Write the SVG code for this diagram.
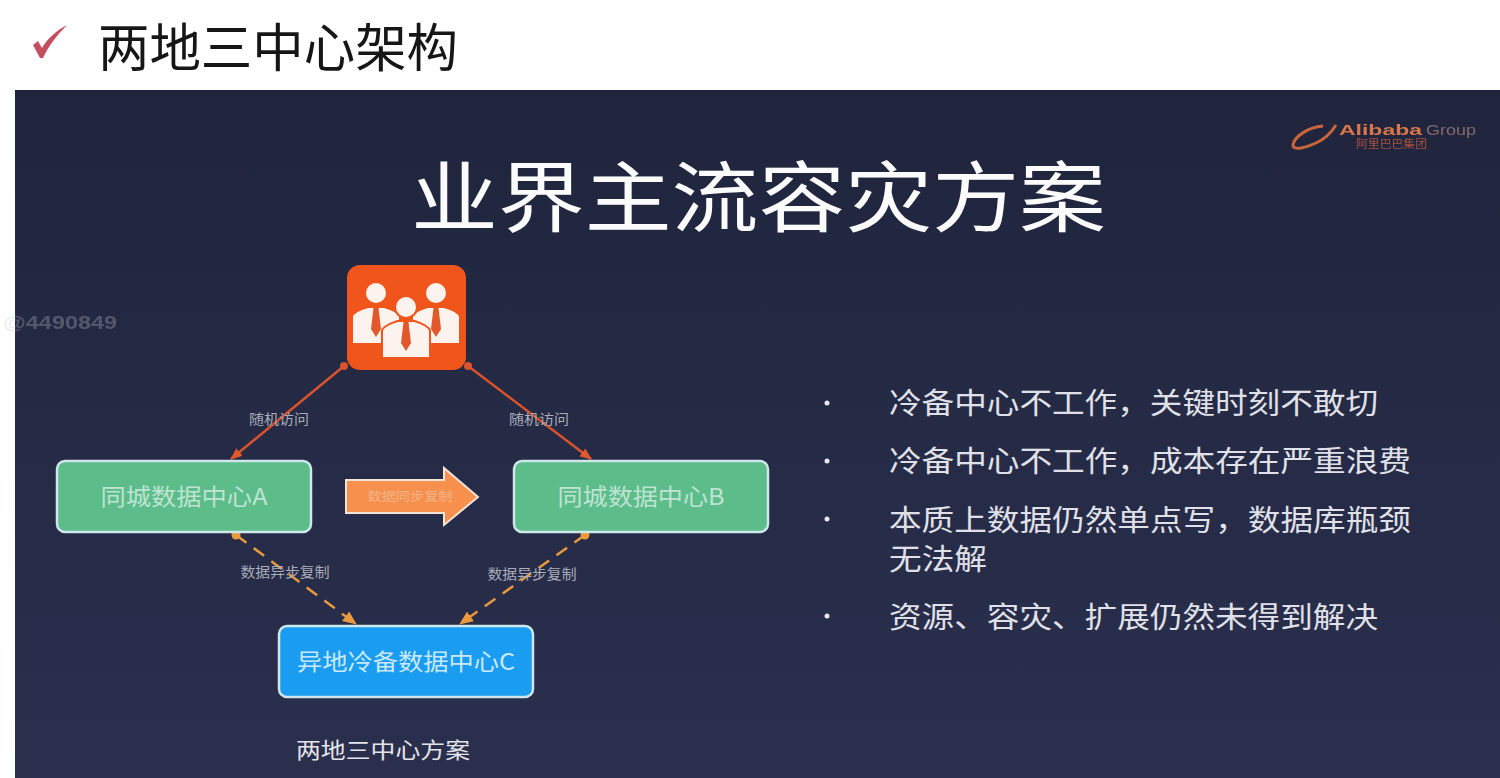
<svg xmlns="http://www.w3.org/2000/svg" width="1500" height="778" viewBox="0 0 1500 778">
<style>
text{font-family:"Noto Sans CJK SC","Noto Sans",sans-serif}
.node{stroke:#cfe6ea;stroke-width:2.5}
.nt{fill:#bfe3d2;font-size:23px;text-anchor:middle}
.lb{fill:#a9adb9;font-size:13.500px;text-anchor:middle}
.bl{fill:#e0e1e8;font-size:29px}
.dot{fill:#e8e8ee}
.red{stroke:#d9532c;stroke-width:2.5;fill:none}
.dash{stroke:#e89a3c;stroke-width:2.5;fill:none;stroke-dasharray:13 9}
.p{fill:#fdf3ee}.t{fill:#e2582a}
.soft{filter:url(#soft)}
</style>
<defs>
<filter id="soft" x="-5%" y="-5%" width="110%" height="110%"><feGaussianBlur stdDeviation="0.6"/></filter>
<linearGradient id="bg" x1="0" y1="0" x2="0" y2="1"><stop offset="0" stop-color="#20253d"/><stop offset="1" stop-color="#2a2f4e"/></linearGradient>
<marker id="ar" markerWidth="14" markerHeight="12" refX="11" refY="5" orient="auto" markerUnits="userSpaceOnUse"><path d="M0 0L12 5L0 10z" fill="#e2582a"/></marker>
<marker id="ao" markerWidth="16" markerHeight="14" refX="13" refY="6" orient="auto" markerUnits="userSpaceOnUse"><path d="M0 0L14 6L0 12z" fill="#e89a3c"/></marker>
<g id="person"><circle cx="0" cy="0" r="10" class="p"/><path d="M-23 50V24Q-22 19 -8 15L8 15Q22 19 23 24V50z" class="p"/><path d="M-2.500 15H2.500L5 36L0 44L-5 36z" class="t"/></g>
</defs>
<rect width="1500" height="778" fill="#fff"/>
<g id="header">
<path d="M33 45L38 41L42 48C47 39 56 31 67 25C56 36 48 47 43 58L40 58Z" fill="#c4505f"/>
<text x="98" y="67" font-size="52" fill="#161616" textLength="360" lengthAdjust="spacingAndGlyphs">两地三中心架构</text>
</g>
<rect x="15" y="90" width="1485" height="688" fill="url(#bg)"/>
<text class="soft" x="3" y="329" font-size="19" font-weight="700" fill="#c3c4ca" opacity=".3" style="font-family:'Liberation Sans',sans-serif" textLength="114" lengthAdjust="spacingAndGlyphs">@4490849</text>
<g id="logo" class="soft">
<path d="M1323 126C1308 127 1294 137 1293 145C1293 151 1306 148 1318 142M1336 125C1331 133 1325 139 1316 143" fill="none" stroke="#c9653a" stroke-width="3"/>
<text x="1339" y="135" font-size="15" font-weight="700" fill="#d8764a" style="font-family:'Liberation Sans',sans-serif" textLength="83" lengthAdjust="spacingAndGlyphs">Alibaba</text>
<text x="1426" y="135" font-size="15" fill="#7f6a6e" style="font-family:'Liberation Sans',sans-serif" textLength="50" lengthAdjust="spacingAndGlyphs">Group</text>
<text x="1356" y="148" font-size="11" fill="#a8503c" textLength="71" lengthAdjust="spacingAndGlyphs">阿里巴巴集团</text>
</g>
<text id="title" x="411" y="226" font-size="77" fill="#fbfbfc" textLength="695" lengthAdjust="spacingAndGlyphs">业界主流容灾方案</text>
<g id="connectors">
<path class="red" marker-end="url(#ar)" d="M344 366L231 459"/>
<path class="red" marker-end="url(#ar)" d="M468 366L591 459"/>
<circle cx="344" cy="366" r="4" fill="#d9532c"/><circle cx="468" cy="366" r="4" fill="#d9532c"/>
<path class="dash" marker-end="url(#ao)" d="M236 535L356 624"/>
<path class="dash" marker-end="url(#ao)" d="M585 535L460 624"/>
<circle cx="236" cy="535" r="4.500" fill="#e89a3c"/><circle cx="585" cy="535" r="4.500" fill="#e89a3c"/>
<text class="lb" x="279" y="424" textLength="60" lengthAdjust="spacingAndGlyphs">随机访问</text>
<text class="lb" x="539" y="424" textLength="60" lengthAdjust="spacingAndGlyphs">随机访问</text>
<text class="lb" x="285" y="577" textLength="89" lengthAdjust="spacingAndGlyphs">数据异步复制</text>
<text class="lb" x="532" y="579" textLength="89" lengthAdjust="spacingAndGlyphs">数据异步复制</text>
</g>
<g id="users">
<rect x="347" y="265" width="119" height="105" rx="13" fill="#f0551c"/>
<use href="#person" x="376" y="293"/><use href="#person" x="436" y="293"/>
<circle cx="406" cy="307" r="12" fill="#f0551c"/>
<path d="M381 358V330Q383 325 397 320H415Q429 325 431 330V358z" fill="#f0551c"/>
<use href="#person" x="406" y="307"/>
</g>
<g id="dcA"><rect class="node" x="57" y="461" width="254" height="71" rx="8" fill="#5cbd8a"/><text class="nt" x="184" y="505" textLength="167" lengthAdjust="spacingAndGlyphs">同城数据中心A</text></g>
<g id="dcB"><rect class="node" x="514" y="461" width="254" height="71" rx="8" fill="#5cbd8a"/><text class="nt" x="641" y="505" textLength="167" lengthAdjust="spacingAndGlyphs">同城数据中心B</text></g>
<g id="dcC"><rect class="node" x="279" y="626" width="254" height="71" rx="8" fill="#1a9cf0"/><text class="nt" style="fill:#c9e9fb" x="406" y="670" textLength="218" lengthAdjust="spacingAndGlyphs">异地冷备数据中心C</text></g>
<g id="syncArrow">
<path d="M346 480H444V468L478 497L444 525V513H346z" fill="#f7904c" stroke="#f5e3d5" stroke-width="2"/>
<text x="410" y="501" font-size="12.500" text-anchor="middle" fill="#f3b48a" textLength="85" lengthAdjust="spacingAndGlyphs">数据同步复制</text>
</g>
<text id="caption" x="383" y="758" font-size="21.500" text-anchor="middle" fill="#e4e5ea" textLength="174" lengthAdjust="spacingAndGlyphs">两地三中心方案</text>
<g id="bullets">
<circle class="dot" cx="827" cy="403" r="2.500"/><text class="bl" x="889" y="414" textLength="489" lengthAdjust="spacingAndGlyphs">冷备中心不工作，关键时刻不敢切</text>
<circle class="dot" cx="827" cy="461" r="2.500"/><text class="bl" x="889" y="472" textLength="522" lengthAdjust="spacingAndGlyphs">冷备中心不工作，成本存在严重浪费</text>
<circle class="dot" cx="827" cy="519" r="2.500"/><text class="bl" x="889" y="531" textLength="522" lengthAdjust="spacingAndGlyphs">本质上数据仍然单点写，数据库瓶颈</text><text class="bl" x="889" y="570" textLength="98" lengthAdjust="spacingAndGlyphs">无法解</text>
<circle class="dot" cx="827" cy="616" r="2.500"/><text class="bl" x="889" y="628" textLength="489" lengthAdjust="spacingAndGlyphs">资源、容灾、扩展仍然未得到解决</text>
</g>
</svg>
